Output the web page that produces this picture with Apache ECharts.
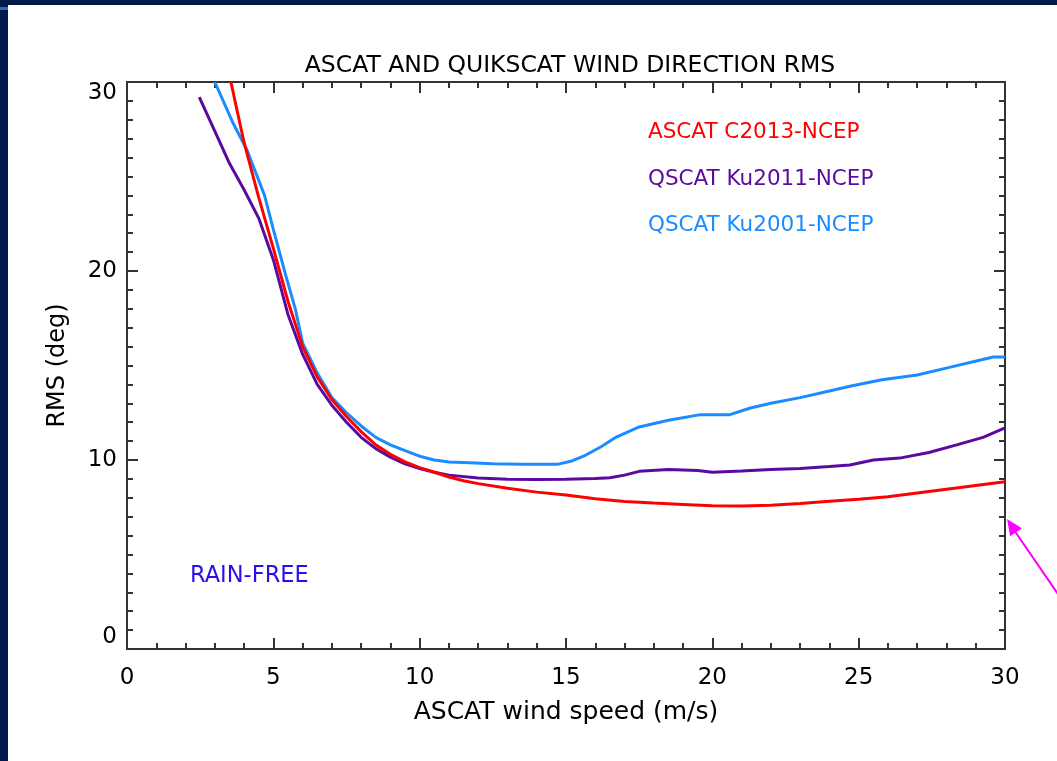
<!DOCTYPE html>
<html>
<head>
<meta charset="utf-8">
<script src="https://cdn.jsdelivr.net/npm/echarts@6/dist/echarts.min.js"></script>
<style>
  html, body { margin: 0; padding: 0; background: #fff; }
  #chart { width: 1057px; height: 761px; }
</style>
</head>
<body>
<div id="chart"></div>
<script>
// wind speed (m/s) and RMS (deg)
var ascatX = [3.55, 4.0, 4.5, 5.0, 5.5, 6.0, 6.5, 7.0, 7.5, 8.0, 8.5, 9.0, 9.5, 10, 10.5, 11, 11.5, 12, 13, 14, 15, 16, 17, 18, 19, 20, 21, 22, 23, 24, 25, 26, 27, 28, 29, 30];
var ascatY = [30, 26.8, 23.9, 21.2, 18.4, 16.0, 14.4, 13.2, 12.3, 11.5, 10.8, 10.3, 9.9, 9.6, 9.35, 9.1, 8.9, 8.75, 8.5, 8.3, 8.15, 7.95, 7.8, 7.72, 7.65, 7.58, 7.57, 7.6, 7.7, 7.82, 7.92, 8.05, 8.25, 8.45, 8.65, 8.85];

var ku2011X = [2.47, 3.0, 3.5, 4.0, 4.5, 5.0, 5.5, 6.0, 6.5, 7.0, 7.5, 8.0, 8.5, 9.0, 9.5, 10, 10.5, 11, 12, 13, 14, 15, 16, 16.5, 17, 17.5, 18.5, 19.5, 20, 21, 22, 23, 24, 24.7, 25.5, 26.4, 27.4, 28.35, 29.25, 30];
var ku2011Y = [29.2, 27.4, 25.7, 24.3, 22.8, 20.6, 17.7, 15.6, 14.0, 12.9, 12.0, 11.2, 10.6, 10.15, 9.8, 9.55, 9.35, 9.2, 9.05, 8.98, 8.97, 8.98, 9.02, 9.06, 9.2, 9.4, 9.5, 9.45, 9.35, 9.42, 9.5, 9.55, 9.65, 9.74, 10.0, 10.1, 10.4, 10.8, 11.2, 11.7];

var ku2001X = [3.0, 3.6, 4.1, 4.4, 4.7, 5.0, 5.4, 5.75, 6.0, 6.5, 7.0, 7.5, 8.0, 8.5, 9.0, 9.5, 10, 10.5, 11, 11.5, 12.5, 13.5, 14.7, 15.2, 15.6, 16.2, 16.7, 17.5, 18.5, 19.6, 20.6, 21.3, 22, 23, 24, 24.7, 25.8, 27, 28.1, 29.2, 29.6, 30];
var ku2001Y = [30, 27.9, 26.4, 25.2, 24.0, 22.2, 19.9, 18.0, 16.2, 14.6, 13.3, 12.5, 11.8, 11.2, 10.8, 10.5, 10.2, 10.0, 9.9, 9.87, 9.8, 9.77, 9.77, 9.95, 10.2, 10.7, 11.2, 11.75, 12.1, 12.4, 12.4, 12.75, 13.0, 13.3, 13.65, 13.9, 14.25, 14.5, 14.9, 15.3, 15.45, 15.45];

var seriesNames = ['ASCAT C2013-NCEP', 'QSCAT Ku2011-NCEP', 'QSCAT Ku2001-NCEP'];
var seriesColors = ['#ff0000', '#5a0a9e', '#1a8cff'];

function pairs(xs, ys) {
  return xs.map(function (x, i) { return [x, ys[i]]; });
}

var font = 'DejaVu Sans';
var axisColor = '#333';

var chart = echarts.init(document.getElementById('chart'));

function axis(extra, splits) {
  return Object.assign({
    type: 'value',
    min: 0, max: 30,
    axisLine: { show: true, onZero: false, lineStyle: { color: axisColor, width: 2 } },
    axisTick: { show: true, inside: true, length: 11, lineStyle: { color: axisColor, width: 2 } },
    minorTick: { show: true, splitNumber: splits, length: 6, lineStyle: { color: axisColor, width: 2 } },
    splitLine: { show: false }
  }, extra);
}

var option = {
  backgroundColor: '#fff',
  animation: false,
  title: {
    text: 'ASCAT AND QUIKSCAT WIND DIRECTION RMS',
    left: 565, top: 49, textAlign: 'center',
    textStyle: { fontFamily: font, fontSize: 23.5, fontWeight: 'normal', color: '#000' }
  },
  grid: { left: 127, top: 82, width: 878, height: 567 },
  xAxis: [
    axis({
      interval: 5,
      name: 'ASCAT wind speed (m/s)', nameLocation: 'middle', nameGap: 51,
      nameTextStyle: { fontFamily: font, fontSize: 25, color: '#000' },
      axisLabel: { margin: 18, fontFamily: font, fontSize: 23, color: '#000' }
    }, 5),
    axis({ position: 'top', interval: 5, axisLabel: { show: false } }, 5)
  ],
  yAxis: [
    axis({
      interval: 10,
      name: 'RMS (deg)', nameLocation: 'middle', nameGap: 57, nameRotate: 90,
      nameTextStyle: { fontFamily: font, fontSize: 24, color: '#000' },
      axisLabel: {
        margin: 10, fontFamily: font, fontSize: 23, color: '#000',
        verticalAlignMinLabel: 'bottom', verticalAlignMaxLabel: 'top'
      }
    }, 10),
    axis({ position: 'right', interval: 10, axisLabel: { show: false } }, 10)
  ],
  series: [
    { name: seriesNames[0], type: 'line', data: pairs(ascatX, ascatY) },
    { name: seriesNames[1], type: 'line', data: pairs(ku2011X, ku2011Y) },
    { name: seriesNames[2], type: 'line', data: pairs(ku2001X, ku2001Y) }
  ].map(function (s, i) {
    s.showSymbol = false;
    s.clip = true;
    s.z = 3 - i;
    s.lineStyle = { color: seriesColors[i], width: 3 };
    s.itemStyle = { color: seriesColors[i] };
    return s;
  }),
  graphic: [
    // slide frame
    { type: 'rect', shape: { x: 0, y: 0, width: 1057, height: 5 }, style: { fill: '#001a4a' } },
    { type: 'rect', shape: { x: 0, y: 0, width: 8, height: 761 }, style: { fill: '#001a4a' } },
    { type: 'rect', shape: { x: 0, y: 7, width: 8, height: 3 }, style: { fill: '#1a6fc9' } },
    // in-plot labels
    { type: 'text', left: 648, top: 121, style: { text: seriesNames[0], fill: seriesColors[0], font: '21.5px "DejaVu Sans"' } },
    { type: 'text', left: 648, top: 168, style: { text: seriesNames[1], fill: seriesColors[1], font: '21.5px "DejaVu Sans"' } },
    { type: 'text', left: 648, top: 214, style: { text: seriesNames[2], fill: seriesColors[2], font: '21.5px "DejaVu Sans"' } },
    { type: 'text', left: 190, top: 565, style: { text: 'RAIN-FREE', fill: '#2a10e8', font: '22.5px "DejaVu Sans"' } },
    // pink arrow
    { type: 'line', shape: { x1: 1014, y1: 530, x2: 1060, y2: 597 }, style: { stroke: '#ff00ff', lineWidth: 2 } },
    { type: 'polygon', shape: { points: [[1007, 519], [1021.8, 528.2], [1010.2, 536.2]] }, style: { fill: '#ff00ff' } }
  ]
};

chart.setOption(option);
</script>
</body>
</html>
